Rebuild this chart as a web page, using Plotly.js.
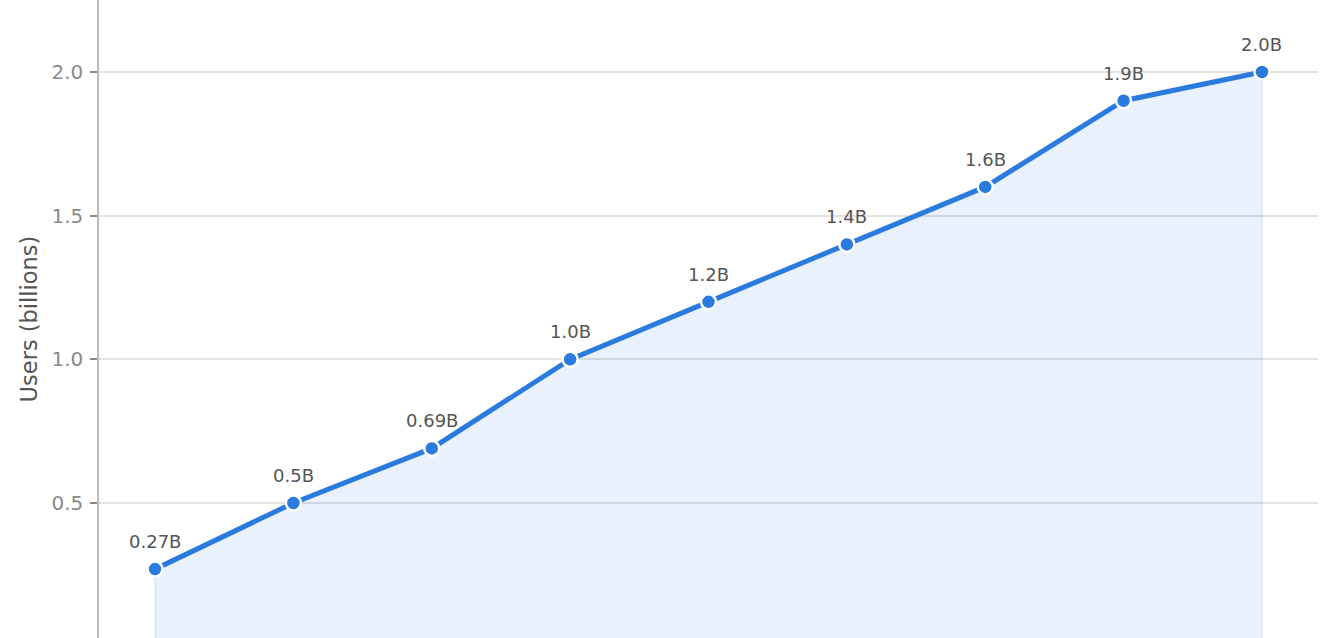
<!DOCTYPE html>
<html>
<head>
<meta charset="utf-8">
<script src="https://cdn.plot.ly/plotly-3.0.1.min.js"></script>
<style>
  html, body { margin: 0; padding: 0; background: #fff; overflow: hidden; }
</style>
</head>
<body>
<div id="graph"></div>
<script>
// x positions are off screen in the reference, so the years are a guess
const years = ['2012', '2013', '2014', '2015', '2016', '2017', '2018', '2019', '2020'];
const users = [0.27, 0.5, 0.69, 1.0, 1.2, 1.4, 1.6, 1.9, 2.0];
const labels = ['0.27B', '0.5B', '0.69B', '1.0B', '1.2B', '1.4B', '1.6B', '1.9B', '2.0B'];

document.addEventListener('DOMContentLoaded', function(event)
{
  displayPlot("graph");
});

function displayPlot(divPlot)
{
  const blue = '#2b7ade';

  let mainTrace = {
    x: years,
    y: users,
    type: 'scatter',
    mode: 'lines+markers',
    fill: 'tozeroy',
    fillcolor: 'rgba(43,122,222,0.1)',
    line: { color: blue, width: 5 },
    marker: { color: blue, size: 15, line: { color: '#ffffff', width: 2.5 } },
    cliponaxis: false,
    hoverinfo: 'x+y'
  };

  // faint vertical edges of the filled area
  let first = 0;
  let last = users.length - 1;
  let edgeTrace = {
    x: [years[first], years[last]],
    y: [users[first], users[last]],
    type: 'scatter',
    mode: 'markers',
    marker: { size: 1, color: 'rgba(0,0,0,0)' },
    error_y: {
      type: 'data',
      symmetric: false,
      array: [0, 0],
      arrayminus: [users[first], users[last]],
      width: 0,
      thickness: 1.5,
      color: 'rgba(43,122,222,0.12)'
    },
    hoverinfo: 'skip'
  };

  // value labels above each point (x is the category index)
  let annotations = [];
  for(let i = 0; i < users.length; i++)
  {
    annotations.push({
      x: i,
      y: users[i],
      xref: 'x',
      yref: 'y',
      text: labels[i],
      showarrow: false,
      yanchor: 'bottom',
      yshift: 15,
      font: { family: 'DejaVu Sans', size: 18, color: '#555555' }
    });
  }

  let layout =
  {
    width: 1340,
    height: 638,
    margin: { l: 99, r: 22, t: 0, b: 0 },
    paper_bgcolor: '#ffffff',
    plot_bgcolor: '#ffffff',
    showlegend: false,
    font: { family: 'DejaVu Sans', color: '#555555' },
    annotations: annotations,
    xaxis:
    {
      type: 'category',
      range: [-0.405, 8.405],
      autorange: false,
      showgrid: false,
      zeroline: false,
      showticklabels: false,
      ticks: ''
    },
    yaxis:
    {
      range: [0.0303, 2.2505],
      autorange: false,
      tickvals: [0.5, 1.0, 1.5, 2.0],
      ticktext: ['0.5', '1.0', '1.5', '2.0'],
      showgrid: true,
      gridcolor: '#e3e3df',
      gridwidth: 1.5,
      zeroline: false,
      showline: true,
      linecolor: '#bdbdb8',
      linewidth: 1.5,
      ticks: 'outside',
      ticklen: 7,
      tickwidth: 1.5,
      tickcolor: '#8a8a8a',
      ticklabelstandoff: 3,
      tickfont: { family: 'DejaVu Sans', size: 20, color: '#8a8a8a' },
      title: {
        text: 'Users (billions)',
        font: { family: 'DejaVu Sans', size: 22.5, color: '#555555' },
        standoff: 8
      }
    },
    hovermode: "closest"
  };

  Plotly.newPlot(divPlot, [mainTrace, edgeTrace], layout, { displayModeBar: false });
}
</script>
</body>
</html>
